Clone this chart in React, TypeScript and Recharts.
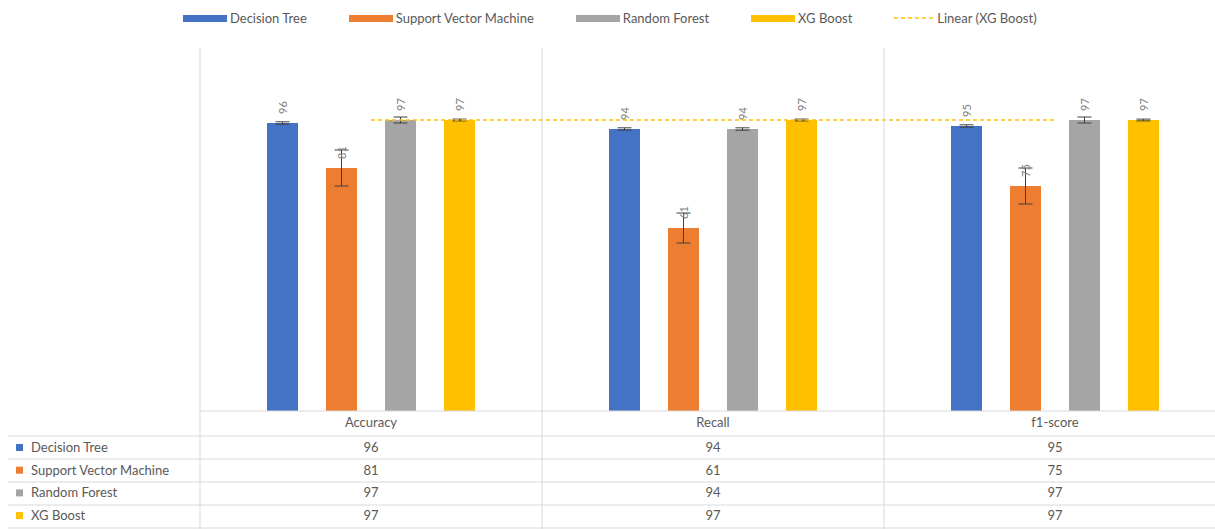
import React from 'react';
import { ComposedChart, Bar, Line, XAxis, YAxis, ErrorBar, LabelList, Legend } from 'recharts';

const categories = ['Accuracy', 'Recall', 'f1-score'];
const decisionTree = [96, 94, 95];
const supportVectorMachine = [81, 61, 75];
const randomForest = [97, 94, 97];
const xgBoost = [97, 97, 97];
const decisionTreeErr = [0.4, 0.4, 0.4];
const supportVectorMachineErr = [6, 5, 6];
const randomForestErr = [1, 0.4, 1];
const xgBoostErr = [0.3, 0.3, 0.3];
const linearXgBoost = [97, 97, 97];

const series = [
  { key: 'dt', name: 'Decision Tree', color: '#4472C4', values: decisionTree, err: decisionTreeErr },
  { key: 'svm', name: 'Support Vector Machine', color: '#ED7D31', values: supportVectorMachine, err: supportVectorMachineErr },
  { key: 'rf', name: 'Random Forest', color: '#A5A5A5', values: randomForest, err: randomForestErr },
  { key: 'xg', name: 'XG Boost', color: '#FFC000', values: xgBoost, err: xgBoostErr },
];

const data = categories.map((name, i) => {
  const row: any = { name, trend: linearXgBoost[i] };
  series.forEach(s => {
    row[s.key] = s.values[i];
    row[s.key + 'Err'] = s.err[i];
  });
  return row;
});

const W = 1240;
const H = 529;
const ML = 200;
const MR = 14;
const LEGEND_H = 18;
const PLOT_TOP = 51;
const AXIS_H = 118;
const BAND = (W - ML - MR) / categories.length;
const FONT = 'Lato, "Open Sans", sans-serif';
const GREY = '#595959';
const LINE = '#d9d9d9';

const RotLabel = (props: any) => {
  const { x, y, width, value } = props;
  const cx = x + width / 2;
  const ty = y - 9;
  return (
    <text x={cx} y={ty} transform={`rotate(-90 ${cx} ${ty})`} textAnchor="start" dominantBaseline="central"
      fontSize={11} fill="#808080" fontFamily={FONT}>{value}</text>
  );
};

const TableTick = (props: any) => {
  const { x, y, payload } = props;
  const i = payload.index;
  const half = BAND / 2;
  return (
    <g fontFamily={FONT} fontSize={13} fill={GREY}>
      <line x1={x - half} x2={x - half} y1={PLOT_TOP - 3} y2={H} stroke={LINE} />
      <text x={x} y={y + 16} textAnchor="middle" fill={GREY}>{payload.value}</text>
      {series.map((s, r) => (
        <text key={s.key} x={x} y={y + 41 + r * 22.7} textAnchor="middle" fill={GREY}>{s.values[i]}</text>
      ))}
      {i === 0 && (
        <g>
          {[25, 48, 71, 94, 117].map(d => (
            <line key={d} x1={8} x2={W} y1={y + d} y2={y + d} stroke={LINE} />
          ))}
          {series.map((s, r) => (
            <g key={s.key}>
              <rect x={16} y={y + 33 + r * 22.7} width={7} height={7} fill={s.color} />
              <text x={31} y={y + 41 + r * 22.7} fill={GREY}>{s.name}</text>
            </g>
          ))}
        </g>
      )}
    </g>
  );
};

const LegendContent = () => (
  <div style={{ display: 'flex', alignItems: 'center', fontFamily: FONT, fontSize: 13, color: GREY, height: LEGEND_H }}>
    {series.map(s => (
      <div key={s.key} style={{ display: 'flex', alignItems: 'center', marginRight: 42 }}>
        <span style={{ display: 'inline-block', width: 44, height: 7, background: s.color, marginRight: 3 }} />
        <span>{s.name}</span>
      </div>
    ))}
    <div style={{ display: 'flex', alignItems: 'center' }}>
      <svg width={40} height={8} style={{ marginRight: 3 }}>
        <line x1={0} x2={40} y1={4} y2={4} stroke="#FFC000" strokeWidth={1.5} strokeDasharray="4 3" />
      </svg>
      <span>Linear (XG Boost)</span>
    </div>
  </div>
);

export default function App() {
  return (
    <div style={{ position: 'fixed', left: 0, top: 0, width: 1215, height: 529, overflow: 'hidden', background: '#fff' }}>
      <ComposedChart width={W} height={H} data={data}
        margin={{ top: PLOT_TOP - LEGEND_H, right: MR, left: ML, bottom: 0 }}
        barSize={31} barGap={28}>
        <XAxis dataKey="name" axisLine={{ stroke: LINE }} tickLine={false} tickSize={0} tickMargin={0}
          height={AXIS_H} tick={<TableTick />} interval={0} />
        <YAxis hide domain={[0, 120]} />
        <Legend verticalAlign="top" content={<LegendContent />}
          wrapperStyle={{ top: 9, left: 183, width: 1000, height: LEGEND_H }} />
        {series.map(s => (
          <Bar key={s.key} dataKey={s.key} name={s.name} fill={s.color} isAnimationActive={false}>
            <ErrorBar dataKey={s.key + 'Err'} width={7} stroke="#404040" strokeWidth={1} />
            <LabelList dataKey={s.key} content={<RotLabel />} />
          </Bar>
        ))}
        <Line dataKey="trend" name="Linear (XG Boost)" stroke="#FFC000" strokeWidth={1.5} strokeDasharray="4 3"
          dot={false} activeDot={false} isAnimationActive={false} />
      </ComposedChart>
    </div>
  );
}
